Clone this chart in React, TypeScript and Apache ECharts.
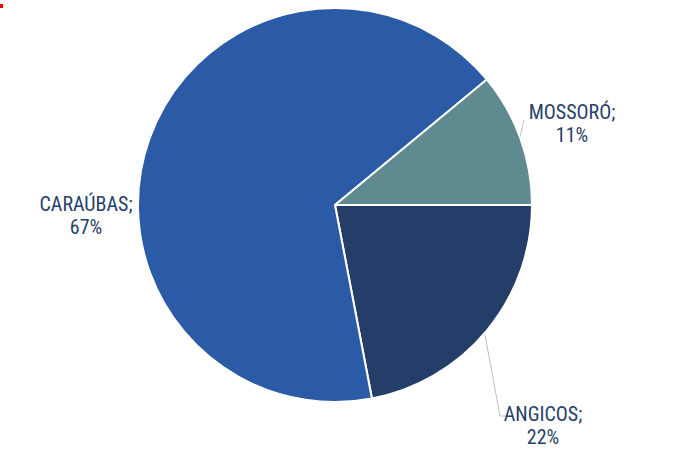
import React, { useEffect, useRef } from "react";
import * as echarts from "echarts";

const categories = ["ANGICOS", "CARAÚBAS", "MOSSORÓ"];
const values = [22, 67, 11];
const colors = ["#243D69", "#2B5AA6", "#5F8A8F"];
const labelPositions: [number, number][] = [
  [543, 425],
  [86, 215],
  [572, 123],
];
const labelLines: ([number, number][] | null)[] = [
  [[485, 335], [500, 416], [508, 416]],
  null,
  [[520, 137], [522, 128], [524, 120]],
];

export default function App() {
  const ref = useRef<HTMLDivElement>(null);
  useEffect(() => {
    const chart = echarts.init(ref.current!, undefined, { renderer: "svg" });
    chart.setOption({
      animation: false,
      graphic: [
        { type: "rect", shape: { x: 0, y: 4, width: 3, height: 4 }, style: { fill: "#ff0000" } },
      ],
      series: [
        {
          type: "pie",
          center: [335, 205],
          radius: 197,
          startAngle: 0,
          clockwise: true,
          itemStyle: { borderColor: "#ffffff", borderWidth: 2 },
          label: {
            show: true,
            formatter: "{b};\n{d}%",
            fontFamily: "'Roboto Condensed', 'Liberation Sans Narrow', 'DejaVu Sans Condensed', Roboto, sans-serif",
            fontSize: 20,
            fontWeight: "normal",
            lineHeight: 23,
            color: "#27416A",
            align: "center",
          },
          labelLine: { show: true, lineStyle: { color: "#BFBFBF", width: 1 }, length: 10, length2: 10 },
          labelLayout: (p: any) => {
            const pos = labelPositions[p.dataIndex];
            const out: any = { x: pos[0], y: pos[1], align: "center", verticalAlign: "middle" };
            const ll = labelLines[p.dataIndex];
            if (ll) out.labelLinePoints = ll;
            return out;
          },
          data: categories.map((c, i) => ({
            name: c,
            value: values[i],
            itemStyle: { color: colors[i] },
            labelLine: { show: i !== 1 },
          })),
        },
      ],
    });
    return () => chart.dispose();
  }, []);
  return <div ref={ref} style={{ position: "absolute", left: 0, top: 0, width: 694, height: 449 }} />;
}
